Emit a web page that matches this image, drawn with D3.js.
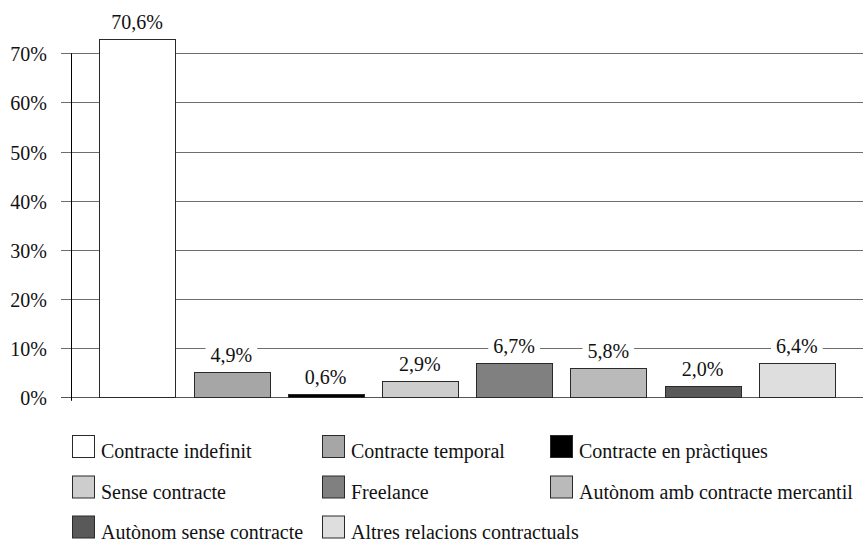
<!DOCTYPE html>
<html>
<head>
<meta charset="utf-8">
<script src="https://d3js.org/d3.v7.min.js"></script>
<style>
  html, body { margin: 0; padding: 0; background: #fff; }
  svg { display: block; }
</style>
</head>
<body>
<script>
// ---- data ----
const categories = [
  "Contracte indefinit",
  "Contracte temporal",
  "Contracte en pràctiques",
  "Sense contracte",
  "Freelance",
  "Autònom amb contracte mercantil",
  "Autònom sense contracte",
  "Altres relacions contractuals"
];
// bar heights as drawn in the picture (percent)
const barHeights = [73.0, 5.1, 0.6, 3.3, 7.0, 6.0, 2.4, 6.9];
// value labels as printed above the bars
const valueLabels = ["70,6%", "4,9%", "0,6%", "2,9%", "6,7%", "5,8%", "2,0%", "6,4%"];
const yTicks = [0, 10, 20, 30, 40, 50, 60, 70];
const yTickLabels = ["0%", "10%", "20%", "30%", "40%", "50%", "60%", "70%"];
const barColors = ["#ffffff", "#a6a6a6", "#000000", "#cdcdcd", "#808080", "#bababa", "#595959", "#dedede"];

// ---- layout ----
const W = 866, H = 541;
const FONT = "Liberation Serif";
const FS = 20;
const svg = d3.select("body").append("svg").attr("width", W).attr("height", H)
  .attr("font-family", FONT);

const x = d3.scaleBand().domain(categories).range([71, 863]).paddingInner(0.196).paddingOuter(0.3);
const y = d3.scaleLinear().domain([0, 70]).range([397.3, 53.3]);

// gridlines
svg.append("g").selectAll("line").data(yTicks).join("line")
  .attr("x1", 61).attr("x2", 863)
  .attr("y1", d => Math.round(y(d)) + 0.5).attr("y2", d => Math.round(y(d)) + 0.5)
  .attr("stroke", d => d === 0 ? "#555" : "#6e6e6e").attr("stroke-width", 1);

// y tick labels
svg.append("g").selectAll("text").data(yTicks).join("text")
  .attr("x", 47).attr("y", d => y(d)).attr("dy", "0.4em")
  .attr("text-anchor", "end")
  .attr("font-family", FONT).attr("font-size", FS).attr("fill", "#111")
  .text((d, i) => yTickLabels[i]);

// y axis vertical line
svg.append("line")
  .attr("x1", 71.5).attr("x2", 71.5)
  .attr("y1", y(70)).attr("y2", y(0) + 3.5)
  .attr("stroke", "#000").attr("stroke-width", 1);

// bars
svg.append("g").selectAll("rect").data(categories).join("rect")
  .attr("x", d => Math.round(x(d)) + 0.5)
  .attr("y", (d, i) => Math.round(y(barHeights[i])) + 0.5)
  .attr("width", Math.round(x.bandwidth()))
  .attr("height", (d, i) => Math.round(y(0)) - Math.round(y(barHeights[i])))
  .attr("fill", (d, i) => barColors[i])
  .attr("stroke", "#2a2a2a").attr("stroke-width", 1);

// value labels with white background
const lg = svg.append("g");
categories.forEach((c, i) => {
  const g = lg.append("g");
  const t = g.append("text")
    .attr("x", x(c) + x.bandwidth() / 2)
    .attr("y", y(barHeights[i]) - 10)
    .attr("text-anchor", "middle")
    .attr("font-family", FONT).attr("font-size", FS).attr("fill", "#111")
    .text(valueLabels[i]);
  const bb = t.node().getBBox();
  g.insert("rect", "text")
    .attr("x", bb.x - 5).attr("y", bb.y + 2)
    .attr("width", bb.width + 10).attr("height", bb.height - 4)
    .attr("fill", "#fff");
});

// legend
const legendCols = [72, 322, 550];
const legendRowTop = [435, 475.5, 515.5];
const sw = 23;
let prevEnd = 0;
categories.forEach((c, i) => {
  const col = i % 3, row = Math.floor(i / 3);
  let lx = legendCols[col];
  if (col > 0) lx = Math.max(lx, prevEnd + 9);
  const ly = legendRowTop[row];
  svg.append("rect")
    .attr("x", lx + 0.5).attr("y", ly + 0.5)
    .attr("width", sw - 1).attr("height", sw - 1)
    .attr("fill", barColors[i]).attr("stroke", "#2a2a2a").attr("stroke-width", 1);
  const t = svg.append("text")
    .attr("x", lx + 29).attr("y", ly + sw)
    .attr("font-family", FONT).attr("font-size", FS).attr("fill", "#111")
    .text(c);
  prevEnd = lx + 29 + t.node().getComputedTextLength();
});
</script>
</body>
</html>
